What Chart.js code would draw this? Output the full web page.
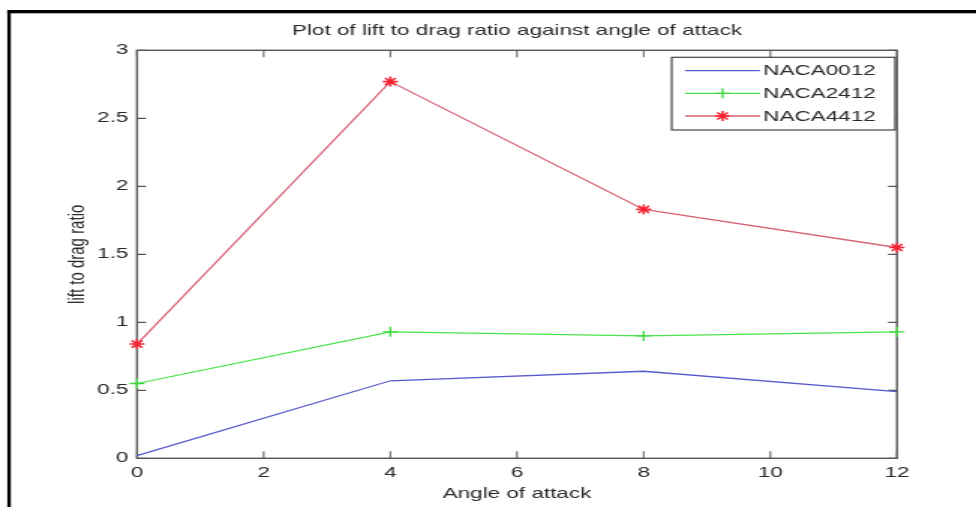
<!DOCTYPE html>
<html><head><meta charset="utf-8">
<script src="https://cdn.jsdelivr.net/npm/chart.js@4"></script>
<style>
html,body{margin:0;padding:0;background:#fff;overflow:hidden;width:976px;height:507px;}
#wrap{position:absolute;left:0;top:0;width:651px;height:507px;transform:scale(1.49923,1);transform-origin:0 0;}
canvas{display:block;}
</style></head><body>
<div id="wrap"><canvas id="c" width="651" height="507" style="width:651px;height:507px"></canvas></div>
<script>
const angles = [0, 4, 8, 12];
const naca0012 = [0.02, 0.57, 0.64, 0.49];
const naca2412 = [0.55, 0.93, 0.90, 0.93];
const naca4412 = [0.84, 2.77, 1.83, 1.55];
const seriesNames = ['NACA0012', 'NACA2412', 'NACA4412'];
const xTickLabels = ['0', '2', '4', '6', '8', '10', '12'];
const yTickLabels = ['0', '0.5', '1', '1.5', '2', '2.5', '3'];
const titleText = 'Plot of lift to drag ratio against angle of attack';
const xTitleText = 'Angle of attack';
const yTitleText = 'lift to drag ratio';

const FONT = "'Liberation Sans', Arial, sans-serif";
const TXT = '#2a2a2a';
const AX = '#555555';

function pts(vals) { return angles.map((a, i) => ({ x: a, y: vals[i] })); }

const decor = {
  id: 'decor',
  beforeDatasetsDraw(chart) {
    const ctx = chart.ctx, a = chart.chartArea;
    const xs = chart.scales.x, ys = chart.scales.y;
    ctx.save();
    ctx.strokeStyle = AX;
    ctx.lineWidth = 1;
    xs.ticks.forEach(t => {
      const px = xs.getPixelForValue(t.value);
      ctx.beginPath();
      ctx.moveTo(px, a.bottom); ctx.lineTo(px, a.bottom - 7);
      ctx.moveTo(px, a.top); ctx.lineTo(px, a.top + 7);
      ctx.stroke();
    });
    ctx.lineWidth = 1.3;
    ys.ticks.forEach(t => {
      const py = ys.getPixelForValue(t.value);
      ctx.beginPath();
      ctx.moveTo(a.left, py); ctx.lineTo(a.left + 6, py);
      ctx.moveTo(a.right, py); ctx.lineTo(a.right - 6, py);
      ctx.stroke();
    });
    ctx.lineWidth = 1.4;
    ctx.strokeRect(a.left, a.top, a.right - a.left, a.bottom - a.top);
    ctx.restore();
  },
  afterDraw(chart) {
    const ctx = chart.ctx, a = chart.chartArea;
    ctx.save();
    ctx.fillStyle = TXT;
    ctx.font = '15px ' + FONT;
    ctx.textAlign = 'center';
    ctx.textBaseline = 'middle';
    ctx.fillText(titleText, (a.left + a.right) / 2, 31);
    ctx.fillStyle = '#000';
    ctx.fillRect(4.9, 10, 2.3, 497);
    ctx.fillRect(4.9, 10, 660, 3.3);
    const bx = 448, by = 57.3, bw = 149, bh = 72.7;
    ctx.fillStyle = '#fff';
    ctx.fillRect(bx, by, bw, bh);
    ctx.strokeStyle = '#444';
    ctx.lineWidth = 1.2;
    ctx.strokeRect(bx, by, bw, bh);
    const rows = [70.7, 93.3, 116];
    const x1 = 456.9, x2 = 506.9, xm = (x1 + x2) / 2;
    chart.data.datasets.forEach((ds, i) => {
      const y = rows[i];
      ctx.strokeStyle = ds.borderColor;
      ctx.lineWidth = ds.borderWidth;
      ctx.beginPath(); ctx.moveTo(x1, y); ctx.lineTo(x2, y); ctx.stroke();
      if (ds.pointRadius > 0 && Chart.helpers && Chart.helpers.drawPoint) {
        ctx.strokeStyle = ds.pointBorderColor;
        ctx.fillStyle = ds.pointBorderColor;
        ctx.lineWidth = ds.pointBorderWidth;
        Chart.helpers.drawPoint(ctx, { pointStyle: ds.pointStyle, radius: ds.pointRadius, borderWidth: ds.pointBorderWidth, rotation: 0 }, xm, y);
      }
      ctx.fillStyle = TXT;
      ctx.font = '15px ' + FONT;
      ctx.textAlign = 'left';
      ctx.textBaseline = 'middle';
      ctx.fillText(ds.label, 509.1, y + 0.5);
    });
    ctx.restore();
  }
};

new Chart(document.getElementById('c'), {
  type: 'line',
  data: {
    datasets: [
      { label: seriesNames[0], data: pts(naca0012), borderColor: 'rgb(90,90,205)', borderWidth: 1.3,
        pointRadius: 0, pointStyle: 'circle', pointBorderColor: 'rgb(90,90,205)', pointBorderWidth: 0, tension: 0, clip: false, fill: false },
      { label: seriesNames[1], data: pts(naca2412), borderColor: 'rgb(75,228,75)', borderWidth: 1.3,
        pointRadius: 5, pointStyle: 'cross', pointBorderColor: 'rgb(60,215,60)', pointBorderWidth: 1.3, tension: 0, clip: false, fill: false },
      { label: seriesNames[2], data: pts(naca4412), borderColor: 'rgb(215,100,120)', borderWidth: 1.3,
        pointRadius: 5, pointStyle: 'star', pointBorderColor: 'rgb(245,35,50)', pointBorderWidth: 1.6, tension: 0, clip: false, fill: false }
    ]
  },
  options: {
    responsive: false,
    maintainAspectRatio: false,
    animation: false,
    events: [],
    layout: { padding: { left: 0, right: 52.7, top: 50.3, bottom: 0 } },
    plugins: { legend: { display: false }, tooltip: { enabled: false }, title: { display: false } },
    scales: {
      x: {
        type: 'linear', min: 0, max: 12,
        grid: { display: false, drawTicks: false },
        border: { display: false },
        ticks: { stepSize: 2, padding: 5.7, color: TXT, font: { family: FONT, size: 15 },
          maxRotation: 0, autoSkip: false, callback: (v, i) => xTickLabels[i] },
        title: { display: true, text: xTitleText, color: TXT, font: { family: FONT, size: 15 }, padding: { top: 0, bottom: 4.6 } },
        afterFit: s => { s.height = 48.7; }
      },
      y: {
        type: 'linear', min: 0, max: 3,
        grid: { display: false, drawTicks: false },
        border: { display: false },
        ticks: { stepSize: 0.5, padding: 5.7, color: TXT, font: { family: FONT, size: 15 },
          autoSkip: false, callback: (v, i) => yTickLabels[i] },
        title: { display: true, text: yTitleText, color: TXT, font: { family: FONT, size: 15 }, padding: { top: 42.7, bottom: 0 } },
        afterFit: s => { s.width = 91.38; }
      }
    }
  },
  plugins: [decor]
});
</script>
</body></html>
